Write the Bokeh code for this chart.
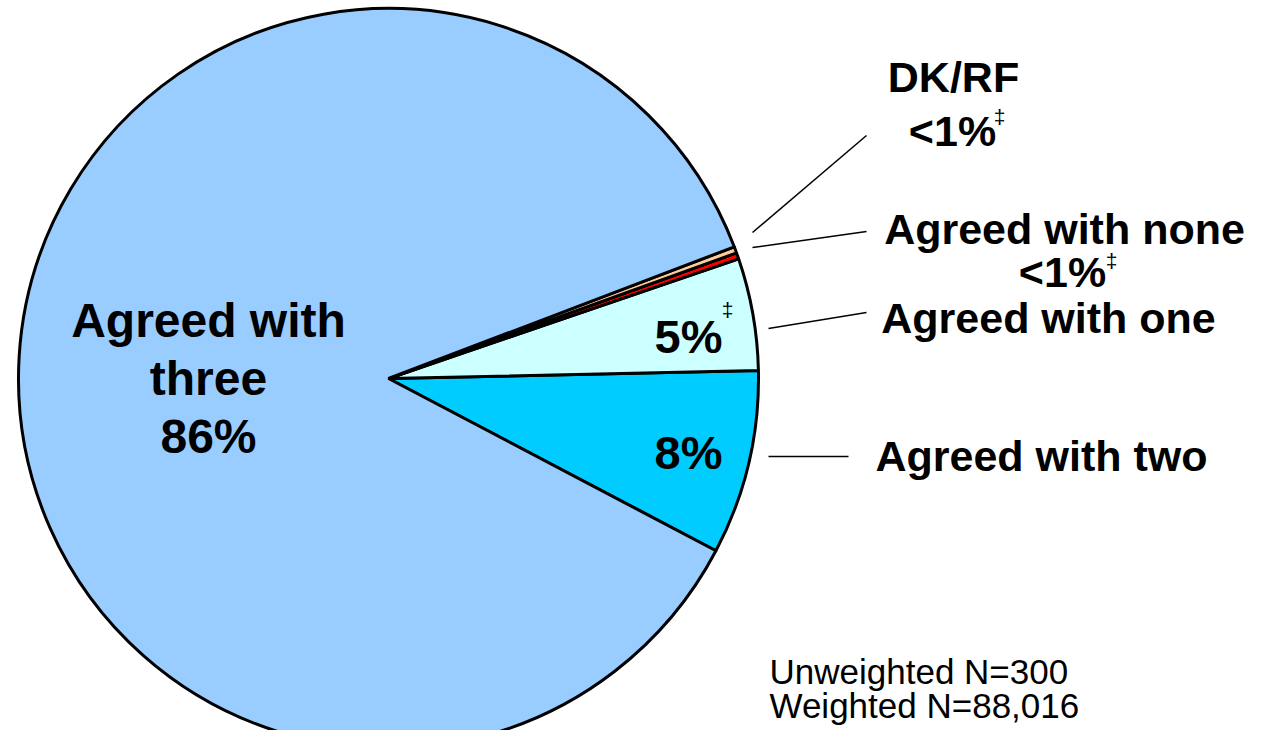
import math
from bokeh.plotting import figure
from bokeh.models import ColumnDataSource
from bokeh.core.properties import value
from bokeh.embed import file_html
from bokeh.resources import INLINE

# ---- data ----
categories = ["Agreed with two", "Agreed with one", "Agreed with none", "DK/RF", "Agreed with three"]
shares = [8.05, 4.9, 0.27, 0.28, 86.5]
colors = ["#00CCFF", "#CCFFFF", "#FF0000", "#FFCC99", "#99CCFF"]
pct_labels = ["8%", "5%", "<1%", "<1%", "86%"]
footnote = ["Unweighted N=300", "Weighted N=88,016"]

W, H = 1247, 730
FONT = value("Liberation Sans")

def px(x):
    return x

def py(y):
    return H - y

p = figure(width=W, height=H, x_range=(0, W), y_range=(0, H),
           output_backend="svg", toolbar_location=None, min_border=0)
p.axis.visible = False
p.grid.visible = False
p.outline_line_color = None
p.background_fill_color = "white"
p.border_fill_color = "white"

cx, cy, r = px(388), py(378), 370
start0 = math.radians(-27.75)
total = sum(shares)
starts, ends = [], []
acc = start0
for s in shares:
    starts.append(acc)
    acc += s / total * 2 * math.pi
    ends.append(acc)

src = ColumnDataSource(dict(start=starts, end=ends, color=colors, cat=categories))
p.wedge(x=cx, y=cy, radius=r, start_angle="start", end_angle="end",
        fill_color="color", line_color="black", line_width=3, source=src)

bold = dict(text_font=FONT, text_font_style="bold", text_color="black",
            text_align="center", text_baseline="middle")

# labels inside pie
p.text(x=[px(208)] * 3, y=[py(320), py(378), py(436)],
       text=["Agreed with", "three", pct_labels[4]], text_font_size="48px", **bold)
p.text(x=[px(688), px(688)], y=[py(336), py(452)],
       text=[pct_labels[1], pct_labels[0]], text_font_size="47px", **bold)

# outside labels
p.text(x=[px(953), px(952)], y=[py(76), py(130)],
       text=[categories[3], pct_labels[3]], text_font_size="43px", **bold)
p.text(x=[px(1064), px(1062)], y=[py(228), py(271)],
       text=[categories[2], pct_labels[2]], text_font_size="43px", **bold)
p.text(x=[px(1048)], y=[py(317)], text=[categories[1]], text_font_size="43px", **bold)
p.text(x=[px(1041)], y=[py(455)], text=[categories[0]], text_font_size="43px", **bold)

# double dagger marks
p.text(x=[px(727), px(999), px(1111)], y=[py(309), py(116), py(260)],
       text=["\u2021"] * 3, text_font=FONT, text_font_size="21px",
       text_align="center", text_baseline="middle", text_color="black")

# leader lines
p.segment(x0=[px(752), px(752), px(768), px(768)],
          y0=[py(232), py(247), py(328), py(456)],
          x1=[px(866), px(866), px(866), px(848)],
          y1=[py(135), py(231), py(312), py(456)],
          line_color="black", line_width=1.5)

# footnote
p.text(x=[px(769), px(769)], y=[py(671), py(705)], text=footnote,
       text_font=FONT, text_font_size="35px", text_align="left",
       text_baseline="middle", text_color="black")

open("out.html", "w").write(file_html(p, INLINE))
